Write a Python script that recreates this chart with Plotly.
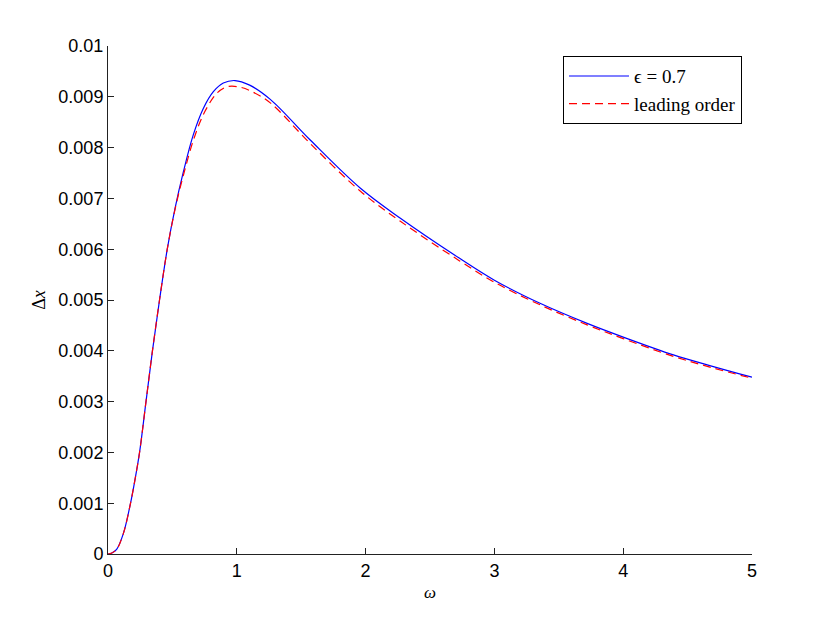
import plotly.graph_objects as go

# values
omega_eps = [0, 0.03, 0.067, 0.119, 0.175, 0.21, 0.245, 0.295, 0.345, 0.40, 0.46,
             0.52, 0.585, 0.662, 0.74, 0.818, 0.895, 0.986, 1.10, 1.26, 1.57, 1.96,
             2.27, 2.73, 3.0, 3.35, 3.72, 4.0, 4.39, 4.7, 5.0]
dx_eps = [0, 0.00002, 0.00009, 0.0004, 0.001, 0.00147, 0.002, 0.003, 0.004, 0.005,
          0.006, 0.0068, 0.00752, 0.00825, 0.00877, 0.0091, 0.00927, 0.00932,
          0.00923, 0.00895, 0.00815, 0.0072, 0.00661, 0.00582, 0.00539, 0.00494,
          0.00454, 0.00427, 0.00392, 0.00369, 0.00348]

omega_lead = [0, 0.03, 0.067, 0.119, 0.175, 0.21, 0.245, 0.295, 0.345, 0.40, 0.46,
              0.52, 0.59, 0.67, 0.75, 0.849, 0.93, 1.025, 1.12, 1.26, 1.57, 1.96,
              2.27, 2.73, 3.0, 3.35, 3.72, 4.0, 4.39, 4.7, 5.0]
dx_lead = [0, 0.00002, 0.00009, 0.0004, 0.001, 0.00147, 0.002, 0.003, 0.004, 0.005,
           0.006, 0.00678, 0.0075, 0.0082, 0.0087, 0.00908, 0.0092, 0.00919, 0.0091,
           0.00888, 0.00808, 0.00714, 0.00655, 0.00577, 0.00535, 0.00491, 0.00451,
           0.00424, 0.00389, 0.00366, 0.00346]

x_ticks = [0, 1, 2, 3, 4, 5]
y_ticks = [0, 0.001, 0.002, 0.003, 0.004, 0.005, 0.006, 0.007, 0.008, 0.009, 0.01]
y_labels = ["0", "0.001", "0.002", "0.003", "0.004", "0.005", "0.006", "0.007",
            "0.008", "0.009", "0.01"]

fig = go.Figure()
fig.add_trace(go.Scatter(x=omega_eps, y=dx_eps, mode="lines", name="ϵ = 0.7",
                         line=dict(color="#0000ff", width=1.2, shape="spline")))
fig.add_trace(go.Scatter(x=omega_lead, y=dx_lead, mode="lines", name="leading order",
                         line=dict(color="#ff0000", width=1.2, dash="8px,5px",
                                   shape="spline")))

# page body has an 8px margin, so the plot area is shifted back by that much
fig.update_layout(
    width=830, height=625,
    margin=dict(l=100, r=86, t=38, b=79),
    paper_bgcolor="white", plot_bgcolor="white",
    font=dict(family="Liberation Sans, Arial", size=18, color="black"),
    legend=dict(x=0.9845, y=0.98, xanchor="right", yanchor="top",
                bgcolor="white", bordercolor="black", borderwidth=1,
                font=dict(family="Liberation Serif, DejaVu Serif", size=19),
                tracegroupgap=0, itemwidth=60),
    showlegend=True,
)

fig.update_xaxes(
    range=[0, 5], tickvals=x_ticks, ticks="inside", ticklen=6,
    showline=True, linecolor="#222", linewidth=1, tickcolor="#222",
    showgrid=False, zeroline=False,
    title=dict(text="<i>ω</i>", font=dict(family="Liberation Serif, DejaVu Serif", size=17),
               standoff=6),
)
fig.update_yaxes(
    range=[0, 0.01], tickvals=y_ticks, ticktext=y_labels, ticks="inside", ticklen=6,
    showline=True, linecolor="#222", linewidth=1, tickcolor="#222",
    showgrid=False, zeroline=False,
    title=dict(text="Δ<i>x</i>", font=dict(family="Liberation Serif, DejaVu Serif", size=18),
               standoff=8),
)

fig.write_html("out.html")
